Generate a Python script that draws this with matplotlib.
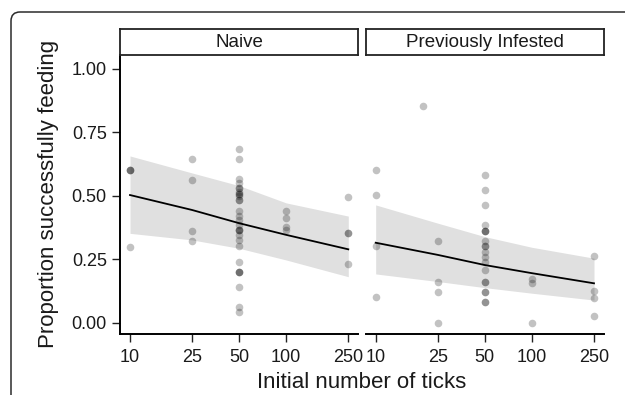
"""Feeding success vs initial tick number, faceted by host history."""
import matplotlib
matplotlib.use("Agg")
import matplotlib.pyplot as plt
from matplotlib.patches import FancyBboxPatch
from matplotlib.ticker import NullLocator
import numpy as np

plt.rcParams["font.family"] = ["Liberation Sans", "DejaVu Sans"]

W, H = 625, 395

PANELS = ["Naive", "Previously Infested"]
X_TICKS = [10, 25, 50, 100, 250]
X_TICK_LABELS = ["10", "25", "50", "100", "250"]
Y_TICKS = [0.0, 0.25, 0.5, 0.75, 1.0]
Y_TICK_LABELS = ["0.00", "0.25", "0.50", "0.75", "1.00"]

# observed proportions (duplicates = overlapping points)
naive_x = [10, 10, 10, 10,
           25, 25, 25, 25,
           50, 50, 50, 50, 50, 50, 50, 50, 50, 50, 50, 50, 50, 50, 50, 50,
           50, 50, 50, 50, 50, 50, 50, 50, 50, 50, 50, 50, 50,
           100, 100, 100, 100,
           250, 250, 250, 250]
naive_y = [0.60, 0.60, 0.60, 0.30,
           0.644, 0.562, 0.363, 0.323,
           0.685, 0.644, 0.565, 0.549, 0.532, 0.516, 0.506, 0.506, 0.484, 0.484,
           0.442, 0.405, 0.385, 0.365, 0.365, 0.365, 0.346, 0.326, 0.302, 0.240,
           0.201, 0.201, 0.201, 0.142, 0.062, 0.041, 0.530, 0.500, 0.420,
           0.442, 0.411, 0.376, 0.365,
           0.494, 0.352, 0.352, 0.231]

prev_x = [10, 10, 10, 10,
          20,
          25, 25, 25, 25,
          50, 50, 50, 50, 50, 50, 50, 50, 50, 50, 50, 50, 50, 50, 50, 50, 50,
          50, 50, 50,
          100, 100, 100,
          250, 250, 250, 250]
prev_y = [0.602, 0.503, 0.302, 0.103,
          0.854,
          0.323, 0.162, 0.120, 0.0,
          0.583, 0.523, 0.464, 0.385, 0.363, 0.363, 0.322, 0.302, 0.302, 0.28,
          0.26, 0.24, 0.208, 0.162, 0.162, 0.120, 0.120, 0.080, 0.080, 0.363,
          0.171, 0.158, 0.0,
          0.263, 0.126, 0.096, 0.026]

# fitted curve and 95% band, read at the tick positions
fit_x = [10, 25, 50, 100, 250]
naive_fit = [0.503, 0.444, 0.392, 0.346, 0.289]
naive_lo = [0.352, 0.326, 0.293, 0.247, 0.181]
naive_hi = [0.657, 0.590, 0.540, 0.472, 0.420]
prev_fit = [0.315, 0.267, 0.227, 0.195, 0.155]
prev_lo = [0.192, 0.162, 0.138, 0.116, 0.089]
prev_hi = [0.464, 0.392, 0.339, 0.297, 0.254]

XLIM = (8.63, 289.7)
YLIM = (-0.046, 1.055)
INK = "#1a1a1a"


def px_rect(x0, x1, y0, y1):
    """pixel box (top-left origin) -> figure fraction rect"""
    return [x0 / W, 1 - y1 / H, (x1 - x0) / W, (y1 - y0) / H]


fig = plt.figure(figsize=(W / 100, H / 100), dpi=100)

# rounded journal frame, running off the right/bottom edge
frame = FancyBboxPatch((0.11, -0.6), 7.0, 3.83 + 0.6,
                       boxstyle="round,pad=0,rounding_size=0.09",
                       transform=fig.dpi_scale_trans, fill=False,
                       lw=1.1, ec="#2b2b2b")
fig.patches.append(frame)

panel_px = [(120, 358.3), (365.7, 604)]
data = [
    (naive_x, naive_y, naive_fit, naive_lo, naive_hi),
    (prev_x, prev_y, prev_fit, prev_lo, prev_hi),
]

for k, (name, (x0, x1), (px, py, fit, lo, hi)) in enumerate(zip(PANELS, panel_px, data)):
    ax = fig.add_axes(px_rect(x0, x1, 55, 334.3))
    ax.fill_between(fit_x, lo, hi, color="#e0e0e0", lw=0, zorder=1)
    ax.scatter(px, py, s=30, color="black", alpha=0.24, lw=0, zorder=2)
    ax.plot(fit_x, fit, color="black", lw=1.3, zorder=3)

    ax.set_xscale("log")
    ax.set_xlim(*XLIM)
    ax.set_ylim(*YLIM)
    ax.set_xticks(X_TICKS)
    ax.set_xticklabels(X_TICK_LABELS)
    ax.xaxis.set_minor_locator(NullLocator())
    ax.tick_params(axis="both", length=5.5, width=1.0, color="#222222",
                   labelsize=13, labelcolor=INK)
    ax.tick_params(axis="x", pad=5)
    ax.tick_params(axis="y", pad=4)

    for side in ("top", "right"):
        ax.spines[side].set_visible(False)
    ax.spines["bottom"].set_linewidth(1.4)
    ax.spines["left"].set_linewidth(1.4)

    ax.set_yticks(Y_TICKS)
    if k == 0:
        ax.set_yticklabels(Y_TICK_LABELS)
    else:
        ax.spines["left"].set_visible(False)
        ax.tick_params(axis="y", left=False, labelleft=False)

    # facet strip
    sax = fig.add_axes(px_rect(x0, x1, 28.7, 55))
    sax.set_xticks([])
    sax.set_yticks([])
    for sp in sax.spines.values():
        sp.set_linewidth(1.3)
        sp.set_color("#222222")
    sax.text(0.5, 0.47, name, ha="center", va="center", fontsize=13.5,
             color=INK, transform=sax.transAxes)

fig.text(49 / W, 1 - 194 / H, "Proportion successfully feeding", rotation=90,
         ha="center", va="center", fontsize=16, color=INK)
fig.text((120 + 604) / 2 / W, 1 - 382 / H, "Initial number of ticks",
         ha="center", va="center", fontsize=16, color=INK)

fig.savefig("out.png", dpi=100)
